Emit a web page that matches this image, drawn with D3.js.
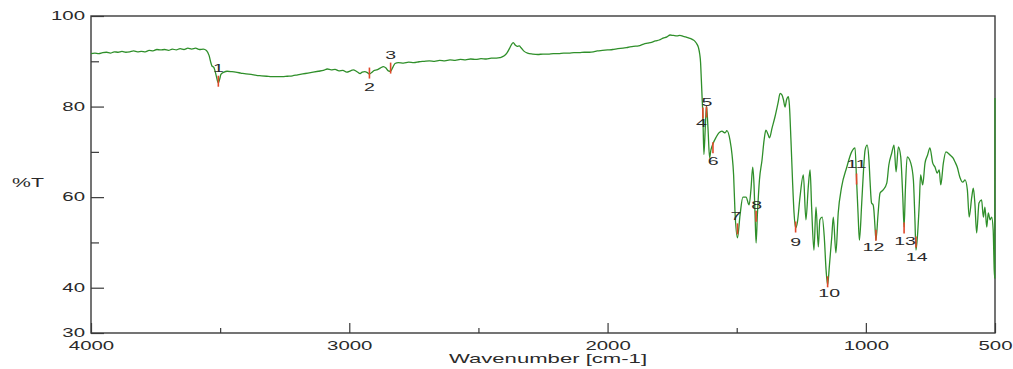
<!DOCTYPE html>
<html>
<head>
<meta charset="utf-8">
<script src="https://cdn.jsdelivr.net/npm/d3@7"></script>
<style>
  html, body { margin: 0; padding: 0; background: #fff; }
  svg { display: block; }
  text { font-family: "Liberation Sans", Arial, sans-serif; fill: #2a2a2a; }
</style>
</head>
<body>
<svg id="chart" width="1013" height="369"></svg>
<script>
// IR transmission spectrum: wavenumber (cm-1) and transmittance (%T)
const wavenumbers = [
  4000, 3985, 3970, 3955, 3940, 3925, 3910, 3895, 3880, 3865, 3850, 3835, 3820, 3805, 3790,
  3775, 3760, 3745, 3730, 3715, 3700, 3685, 3670, 3655, 3640, 3625, 3610, 3595, 3580, 3565,
  3553, 3543, 3535, 3532, 3524, 3516, 3507, 3502, 3497, 3485, 3473, 3454,
  3440, 3420, 3400, 3380, 3360, 3340, 3320, 3300, 3280, 3260, 3240, 3220, 3200, 3180, 3160,
  3140, 3120, 3100, 3085, 3070, 3055, 3040, 3025, 3010, 2995, 2985, 2970, 2958, 2950, 2940,
  2930, 2922, 2912, 2903, 2894, 2880, 2868, 2858, 2849, 2840, 2832, 2823, 2810, 2790, 2770,
  2750, 2730, 2710, 2690, 2670, 2650, 2630, 2610, 2590, 2570, 2550, 2530, 2510, 2490, 2470,
  2450, 2430, 2417, 2400, 2390, 2380, 2372, 2365, 2358, 2350, 2342, 2335, 2325, 2310, 2290,
  2270, 2250, 2230, 2210, 2190, 2170, 2150, 2130, 2110, 2090, 2070, 2055, 2040, 2020, 2000,
  1980, 1960, 1940, 1920, 1900, 1880, 1860, 1845, 1830, 1815, 1800, 1785, 1770, 1758, 1745,
  1731, 1720, 1707, 1698, 1689, 1678, 1668, 1660, 1654, 1648, 1643, 1640, 1637, 1634, 1631,
  1627, 1622, 1617, 1611, 1605, 1600, 1592, 1580, 1569, 1557, 1550, 1545, 1538, 1526, 1518,
  1512, 1507, 1497, 1487, 1476, 1464, 1452, 1445, 1438, 1433, 1429, 1425, 1420, 1412, 1402,
  1394, 1387, 1379, 1373, 1363, 1352, 1340, 1332, 1325, 1319, 1313, 1307, 1300, 1296, 1290,
  1284, 1278, 1272, 1265, 1255, 1242, 1232, 1223, 1216, 1210, 1201, 1193, 1184, 1178, 1169,
  1161, 1154, 1148, 1141, 1132, 1126, 1116, 1107, 1094, 1074, 1055, 1042, 1036, 1030, 1025,
  1016, 1009, 1003, 995, 988, 984, 978, 972, 969, 965, 961, 953, 945, 933, 919,
  911, 900, 891, 883, 874, 865, 857, 852, 847, 840, 826, 816, 810, 806, 800,
  793, 788, 780, 771, 761, 752, 741, 732, 724, 716, 710, 700, 690, 674, 662,
  655, 646, 636, 625, 616, 607, 600, 590, 584, 578, 571, 562, 552, 545, 539,
  532, 526, 519, 513, 507, 503, 501, 500
];
const transmittance = [
  91.7, 91.8, 91.7, 91.9, 92.0, 91.8, 92.1, 92.0, 92.2, 92.0, 92.1, 92.3, 92.1, 92.2, 92.1,
  92.4, 92.3, 92.6, 92.5, 92.6, 92.4, 92.7, 92.5, 92.8, 92.6, 92.9, 92.7, 92.9, 92.6, 92.7,
  92.4, 91.3, 89.5, 89.0, 88.6, 87.0, 85.2, 86.0, 87.1, 87.6, 87.8, 87.7,
  87.6, 87.4, 87.2, 87.1, 86.9, 86.8, 86.7, 86.6, 86.6, 86.6, 86.7, 86.8, 87.0, 87.2, 87.4,
  87.6, 87.8, 88.0, 88.3, 88.1, 88.2, 87.9, 88.0, 87.6, 87.9, 88.1, 87.7, 87.3, 87.6, 87.7,
  87.5, 87.2, 87.6, 88.0, 88.1, 88.5, 88.8, 88.5, 87.9, 87.8, 88.6, 89.5, 89.7, 89.6, 89.8,
  89.7, 89.9, 90.0, 90.1, 90.0, 90.2, 90.1, 90.3, 90.2, 90.4, 90.3, 90.5, 90.4, 90.6, 90.5,
  90.7, 90.7, 90.8, 91.2, 91.8, 92.8, 93.7, 94.1, 93.6, 93.3, 93.4, 93.0, 92.3, 91.8, 91.6,
  91.5, 91.6, 91.6, 91.7, 91.7, 91.8, 91.8, 91.9, 91.9, 92.0, 92.0, 92.1, 92.3, 92.4, 92.5,
  92.6, 92.8, 92.9, 93.1, 93.3, 93.4, 93.8, 94.0, 94.2, 94.5, 94.7, 95.1, 95.4, 95.8, 95.7,
  95.6, 95.7, 95.5, 95.4, 95.2, 95.0, 94.7, 94.3, 93.8, 93.0, 91.5, 89.8, 86.0, 82.0, 78.0,
  69.4, 75.0, 80.2, 75.0, 68.7, 70.4, 71.8, 73.2, 74.2, 74.6, 74.3, 74.2, 74.7, 72.6, 69.3,
  64.9, 57.2, 51.0, 56.1, 60.0, 60.0, 58.3, 61.6, 66.6, 62.7, 56.1, 49.9, 56.1, 63.8, 68.2,
  72.6, 74.8, 73.9, 73.1, 75.3, 77.7, 80.8, 82.9, 82.6, 81.5, 79.9, 81.5, 82.2, 80.3, 72.6,
  63.8, 56.5, 53.2, 54.5, 60.0, 64.9, 55.0, 62.2, 66.0, 57.8, 48.3, 57.8, 49.0, 55.0, 55.6,
  51.2, 43.9, 40.6, 45.0, 51.2, 55.6, 47.7, 56.5, 62.2, 66.6, 70.0, 70.9, 63.8, 56.1, 50.5,
  58.7, 66.0, 70.4, 71.5, 68.2, 63.8, 58.7, 58.3, 57.2, 53.8, 50.5, 56.1, 60.9, 61.6, 63.1,
  67.1, 69.7, 71.5, 65.6, 71.1, 68.9, 60.0, 53.4, 61.6, 68.9, 67.5, 63.8, 55.0, 48.3, 51.6,
  58.7, 64.9, 62.7, 67.5, 69.3, 70.9, 67.5, 66.6, 65.3, 66.0, 62.7, 67.5, 70.0, 69.3, 68.6,
  67.8, 66.6, 64.4, 63.3, 63.8, 61.6, 55.6, 60.0, 62.0, 58.7, 52.1, 58.7, 59.4, 55.6, 57.8,
  53.4, 56.5, 55.0, 55.6, 52.7, 43.9, 42.1, 81.9
];

// Picked peaks: number, position (cm-1) and %T at the marker
const peakNumbers = ["1", "2", "3", "4", "5", "6", "7", "8", "9", "10", "11", "12", "13", "14"];
const peakWavenumbers = [3507, 2922, 2840, 1631, 1617, 1592, 1497, 1425, 1272, 1148, 1036, 961, 852, 806];
const peakTransmittance = [85.6, 87.4, 88.5, 78.6, 78.8, 70.9, 53.0, 55.8, 53.4, 41.3, 64.0, 51.6, 53.2, 50.1];

// Axis ticks
const xMajorTicks = [4000, 3000, 2000, 1000, 500];
const xMinorTicks = [3500, 2500, 1500];
const yMajorTicks = [100, 80, 60, 40, 30];
const yMinorTicks = [90, 70, 50];

const xTitle = "Wavenumber [cm-1]";
const yTitle = "%T";

// ---- layout ----
const W = 1013, H = 369;
const margin = { left: 91, right: 18, top: 16, bottom: 36 };
const iw = W - margin.left - margin.right;
const ih = H - margin.top - margin.bottom;
const STRETCH = 1.7;      // wide lettering used for all labels
const AXIS = "#3a3a3a";

const svg = d3.select("#chart");
svg.append("rect").attr("width", W).attr("height", H).attr("fill", "#fff");
const g = svg.append("g").attr("transform", `translate(${margin.left},${margin.top})`);

const x = d3.scaleLinear().domain([4000, 500]).range([0, iw]);
const y = d3.scaleLinear().domain([30, 100]).range([ih, 0]);

// x axis (ticks pointing into the plot)
const xAxis = g.append("g").attr("transform", `translate(0,${ih})`)
  .call(d3.axisBottom(x).tickValues(xMajorTicks).tickSizeInner(-10).tickSizeOuter(0)
    .tickPadding(8.5).tickFormat(d3.format("d")));
g.append("g").attr("transform", `translate(0,${ih})`)
  .call(d3.axisBottom(x).tickValues(xMinorTicks).tickSizeInner(-5).tickSizeOuter(0).tickFormat(""))
  .call(a => a.select(".domain").remove());

// y axis
const yAxis = g.append("g")
  .call(d3.axisLeft(y).tickValues(yMajorTicks).tickSizeInner(-13).tickSizeOuter(0)
    .tickPadding(6).tickFormat(d3.format("d")));
g.append("g")
  .call(d3.axisLeft(y).tickValues(yMinorTicks).tickSizeInner(-8).tickSizeOuter(0).tickFormat(""))
  .call(a => a.select(".domain").remove());

g.selectAll(".tick line").attr("stroke", AXIS).attr("stroke-width", 1.2);
g.selectAll(".domain").remove();

xAxis.selectAll(".tick text")
  .attr("font-size", 12).attr("font-family", null).attr("fill", "#2a2a2a")
  .attr("transform", `scale(${STRETCH},1)`);
yAxis.selectAll(".tick text")
  .attr("font-size", 12).attr("font-family", null).attr("fill", "#2a2a2a")
  .attr("x", -6 / STRETCH)
  .attr("transform", `scale(${STRETCH},1)`);
xAxis.attr("font-family", null);
yAxis.attr("font-family", null);

// plot frame
g.append("rect").attr("x", 0).attr("y", 0).attr("width", iw).attr("height", ih)
  .attr("fill", "none").attr("stroke", AXIS).attr("stroke-width", 1.4);

// spectrum
const points = wavenumbers.map((w, i) => [w, transmittance[i]]);
const line = d3.line().x(d => x(d[0])).y(d => y(d[1])).curve(d3.curveMonotoneX);
g.append("path").datum(points)
  .attr("d", line)
  .attr("fill", "none")
  .attr("stroke", "#2f8f2a")
  .attr("stroke-width", 1.3)
  .attr("stroke-linejoin", "round");

// peak markers
const peaks = peakNumbers.map((n, i) => ({ n, w: peakWavenumbers[i], t: peakTransmittance[i] }));
g.selectAll("line.peak").data(peaks).join("line")
  .attr("class", "peak")
  .attr("x1", d => x(d.w)).attr("x2", d => x(d.w))
  .attr("y1", d => y(d.t) - 5.5).attr("y2", d => y(d.t) + 5.5)
  .attr("stroke", "#e0482a").attr("stroke-width", 1.6);

// label placement relative to each marker (px)
const labelOffset = {
  "1": [0, -13], "2": [0, 14], "3": [0, -13], "4": [-1.5, 10], "5": [0.5, -10],
  "6": [0.3, 13.5], "7": [-1.5, -13], "8": [0.5, -11.5], "9": [0, 15], "10": [1.5, 11.5],
  "11": [0, -15], "12": [-2.5, 12], "13": [1, 13.5], "14": [0.7, 14.5]
};
g.selectAll("text.peak").data(peaks).join("text")
  .attr("class", "peak")
  .attr("transform", d => {
    const o = labelOffset[d.n];
    return `translate(${x(d.w) + o[0]},${y(d.t) + o[1]}) scale(${STRETCH},1)`;
  })
  .attr("text-anchor", "middle")
  .attr("dy", "0.35em")
  .attr("font-size", 11.5)
  .attr("fill", "#333")
  .text(d => d.n);

// axis titles
svg.append("text")
  .attr("transform", `translate(548,363) scale(${STRETCH},1)`)
  .attr("text-anchor", "middle").attr("font-size", 13)
  .text(xTitle);
svg.append("text")
  .attr("transform", `translate(28,186.5) scale(${STRETCH},1)`)
  .attr("text-anchor", "middle").attr("font-size", 12.5)
  .text(yTitle);
</script>
</body>
</html>
